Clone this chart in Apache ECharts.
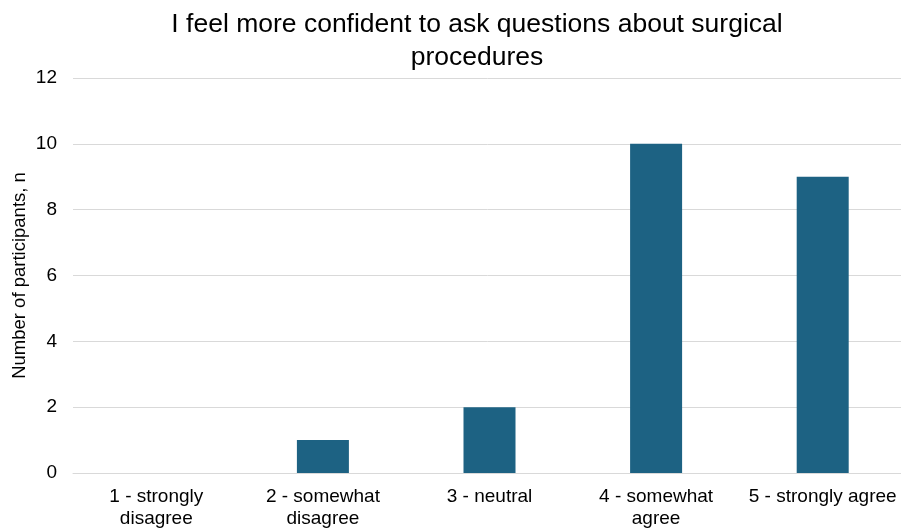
<!DOCTYPE html>
<html>
<head>
<meta charset="utf-8">
<script src="https://cdn.jsdelivr.net/npm/echarts@6/dist/echarts.min.js"></script>
<style>
    html, body { margin: 0; padding: 0; background: #fff; }
    #chart { width: 901px; height: 531px; }
</style>
</head>
<body>
<div id="chart"></div>
<script>
const categories = [
    '1 - strongly\ndisagree',
    '2 - somewhat\ndisagree',
    '3 - neutral',
    '4 - somewhat\nagree',
    '5 - strongly agree',
];
const participants = [0, 1, 2, 10, 9];
const yTicks = { min: 0, max: 12, interval: 2 };

const font = 'Liberation Sans, Arial, sans-serif';
const myChart = echarts.init(document.getElementById('chart'));
const option = {
    backgroundColor: '#fff',
    animation: false,
    title: {
        text: 'I feel more confident to ask questions about surgical\nprocedures',
        left: 472,
        top: 3,
        textAlign: 'center',
        textStyle: {
            fontFamily: font,
            fontSize: 26.5,
            fontWeight: 'normal',
            color: '#000',
            lineHeight: 33,
        },
    },
    grid: {
        left: 73,
        width: 833,
        top: 78,
        bottom: 58,
        outerBoundsMode: 'none',
        containLabel: false,
    },
    xAxis: {
        type: 'category',
        data: categories,
        axisTick: { show: false },
        axisLine: { lineStyle: { color: '#d9d9d9', width: 1 } },
        axisLabel: {
            interval: 0,
            margin: 13,
            fontFamily: font,
            fontSize: 19,
            color: '#000',
            lineHeight: 22,
        },
    },
    yAxis: {
        type: 'value',
        min: yTicks.min,
        max: yTicks.max,
        interval: yTicks.interval,
        name: 'Number of participants, n',
        nameLocation: 'middle',
        nameGap: 44,
        nameMoveOverlap: false,
        nameTextStyle: {
            fontFamily: font,
            fontSize: 18.5,
            color: '#000',
        },
        axisLabel: {
            margin: 16,
            fontFamily: font,
            fontSize: 19,
            color: '#000',
        },
        splitLine: { lineStyle: { color: '#d9d9d9', width: 1 } },
    },
    series: [
        {
            type: 'bar',
            data: participants,
            barWidth: 52,
            itemStyle: { color: '#1d6283' },
        },
    ],
};
myChart.setOption(option);
</script>
</body>
</html>
